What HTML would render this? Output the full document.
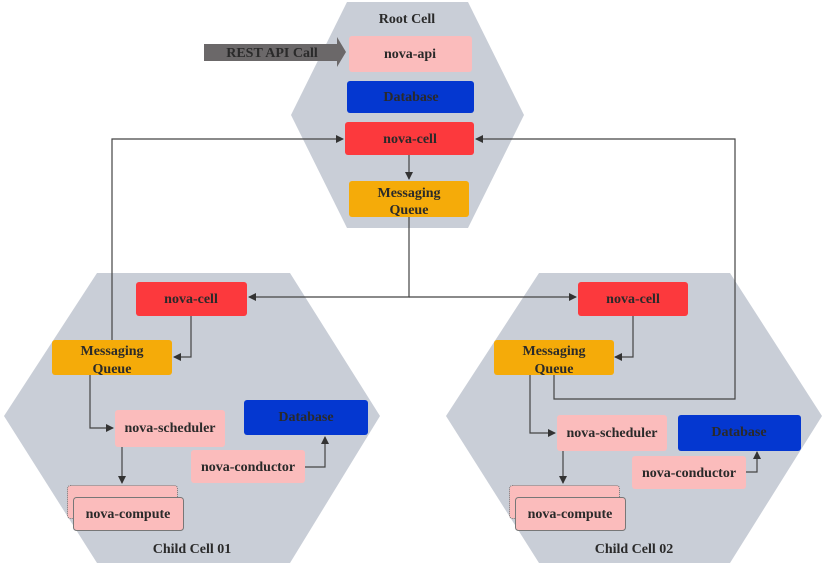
<!DOCTYPE html>
<html><head><style>
body{margin:0;background:#fff}
svg text{font-family:"Liberation Serif",serif;font-weight:bold;font-size:14px;fill:#2a2a2a;text-anchor:middle}
</style></head><body>
<svg width="827" height="568" viewBox="0 0 827 568" xmlns="http://www.w3.org/2000/svg">
<defs><marker id="a" markerWidth="8" markerHeight="8" refX="7" refY="4" orient="auto" markerUnits="userSpaceOnUse"><path d="M0,0 L8,4 L0,8z" fill="#333"/></marker></defs>
<g fill="#c9ced7">
<polygon points="347,2 468,2 524,115 468,228 347,228 291,115"/>
<polygon points="97,273 290,273 380,416 290,563 97,563 4,416"/>
<polygon points="539,273 730,273 822,416 730,563 539,563 446,416"/>
</g>
<path d="M204,44 H337 V37 L346,52 L337,67 V61 H204z" fill="#6b6869"/>
<text x="272" y="57" fill="#2a2a2a">REST API Call</text>
<g stroke="#444" stroke-width="1.2" fill="none">
<path d="M409,217 V297 H249" marker-end="url(#a)"/>
<path d="M409,297 H576" marker-end="url(#a)"/>
<path d="M112,340 V139 H343" marker-end="url(#a)"/>
<path d="M554,375 V399 H735 V139 H476" marker-end="url(#a)"/>
<path d="M409,155 V179" marker-end="url(#a)"/>
<path d="M191,316 V357 H174" marker-end="url(#a)"/>
<path d="M90,375 V428 H113" marker-end="url(#a)"/>
<path d="M122,447 V483" marker-end="url(#a)"/>
<path d="M305,467 H325 V437" marker-end="url(#a)"/>
<path d="M633,316 V357 H615" marker-end="url(#a)"/>
<path d="M530,375 V433 H555" marker-end="url(#a)"/>
<path d="M563,451 V483" marker-end="url(#a)"/>
<path d="M746,472 H757 V452" marker-end="url(#a)"/>
</g>
<text x="407" y="23">Root Cell</text>
<rect x="349" y="36" width="123" height="36" rx="3" fill="#fbbcbc"/><text x="410" y="58">nova-api</text>
<rect x="347" y="81" width="127" height="32" rx="3" fill="#0437d0"/><text x="411" y="101">Database</text>
<rect x="345" y="122" width="129" height="33" rx="3" fill="#fc393d"/><text x="410" y="143">nova-cell</text>
<rect x="349" y="181" width="120" height="36" rx="3" fill="#f5ab09"/><text x="409" y="197">Messaging</text><text x="409" y="214">Queue</text>
<rect x="136" y="282" width="111" height="34" rx="3" fill="#fc393d"/><text x="191" y="303">nova-cell</text>
<rect x="52" y="340" width="120" height="35" rx="3" fill="#f5ab09"/><text x="112" y="355">Messaging</text><text x="112" y="373">Queue</text>
<rect x="115" y="410" width="110" height="37" rx="3" fill="#fbbcbc"/><text x="170" y="432">nova-scheduler</text>
<rect x="244" y="400" width="124" height="35" rx="3" fill="#0437d0"/><text x="306" y="421">Database</text>
<rect x="191" y="450" width="114" height="33" rx="3" fill="#fbbcbc"/><text x="248" y="471">nova-conductor</text>
<rect x="67.5" y="485.5" width="110" height="33" rx="3" fill="#fbbcbc" stroke="#777" stroke-dasharray="1,1"/>
<rect x="73.5" y="497.5" width="110" height="33" rx="3" fill="#fbbcbc" stroke="#777"/><text x="128" y="518">nova-compute</text>
<text x="192" y="553">Child Cell 01</text>
<rect x="578" y="282" width="110" height="34" rx="3" fill="#fc393d"/><text x="633" y="303">nova-cell</text>
<rect x="494" y="340" width="120" height="35" rx="3" fill="#f5ab09"/><text x="554" y="355">Messaging</text><text x="554" y="373">Queue</text>
<rect x="557" y="415" width="110" height="36" rx="3" fill="#fbbcbc"/><text x="612" y="437">nova-scheduler</text>
<rect x="678" y="415" width="123" height="36" rx="3" fill="#0437d0"/><text x="739" y="436">Database</text>
<rect x="632" y="456" width="114" height="33" rx="3" fill="#fbbcbc"/><text x="689" y="477">nova-conductor</text>
<rect x="509.5" y="485.5" width="110" height="33" rx="3" fill="#fbbcbc" stroke="#777" stroke-dasharray="1,1"/>
<rect x="515.5" y="497.5" width="110" height="33" rx="3" fill="#fbbcbc" stroke="#777"/><text x="570" y="518">nova-compute</text>
<text x="634" y="553">Child Cell 02</text>
</svg>
</body></html>
